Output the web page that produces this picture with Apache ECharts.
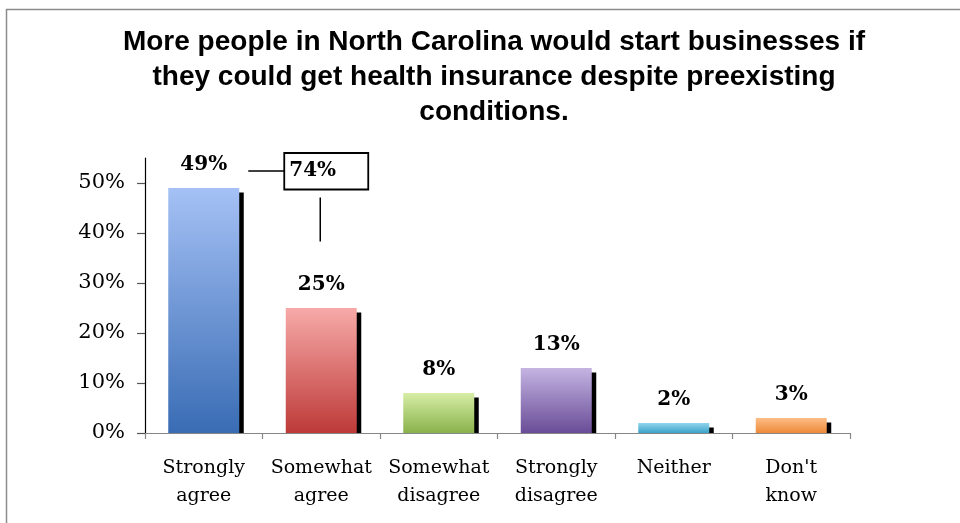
<!DOCTYPE html>
<html>
<head>
<meta charset="utf-8">
<script src="https://cdn.jsdelivr.net/npm/echarts@6/dist/echarts.min.js"></script>
<style>
html,body{margin:0;padding:0;background:#fff;}
#chart{width:960px;height:523px;}
</style>
</head>
<body>
<div id="chart"></div>
<script>
// ---- data ----
const titleText = 'More people in North Carolina would start businesses if\nthey could get health insurance despite preexisting\nconditions.';
const categories = ['Strongly\nagree', 'Somewhat\nagree', 'Somewhat\ndisagree', 'Strongly\ndisagree', 'Neither', "Don't\nknow"];
const values = [49, 25, 8, 13, 2, 3];
const yTicks = [0, 10, 20, 30, 40, 50];
const topColors = ['#a5c1f5', '#f7aaa8', '#d7eea6', '#c4b4e2', '#92d5ed', '#fdbd86'];
const bottomColors = ['#396cb4', '#bd3a38', '#89b24b', '#694c97', '#3aa2c8', '#ee8a3a'];
const agreeTotal = values[0] + values[1];

const barW = 71;
const serif = '"DejaVu Serif", "Liberation Serif", serif';

const chart = echarts.init(document.getElementById('chart'), null, {renderer: 'canvas'});

const barData = values.map((v, i) => ({
  value: v,
  itemStyle: {
    color: {
      type: 'linear', x: 0, y: 0, x2: 0, y2: 1,
      colorStops: [{offset: 0, color: topColors[i]}, {offset: 1, color: bottomColors[i]}]
    }
  }
}));

chart.setOption({
  animation: false,
  backgroundColor: '#fff',
  title: {
    text: titleText,
    left: 494,
    top: 25,
    textAlign: 'center',
    padding: 0,
    textStyle: {
      fontFamily: '"Liberation Sans", Arial, sans-serif',
      fontWeight: 'bold',
      fontSize: 28,
      lineHeight: 35,
      color: '#000'
    }
  },
  grid: {left: 145, right: 110, top: 158, bottom: 90, containLabel: false},
  xAxis: {
    type: 'category',
    data: categories,
    axisLine: {lineStyle: {color: '#868686', width: 1.2}},
    axisTick: {show: true, length: 6, alignWithLabel: false, lineStyle: {color: '#868686', width: 1.2}},
    axisLabel: {
      interval: 0, margin: 21, color: '#000',
      fontFamily: serif, fontSize: 19, lineHeight: 28
    },
    splitLine: {show: false}
  },
  yAxis: {
    type: 'value',
    min: 0, max: 55, interval: 10,
    axisLine: {show: true, lineStyle: {color: '#000', width: 1.2}},
    axisTick: {show: true, length: 8, customValues: yTicks, lineStyle: {color: '#555', width: 1.2}},
    axisLabel: {
      customValues: yTicks,
      formatter: '{value}%', margin: 20, color: '#000',
      fontFamily: serif, fontSize: 21
    },
    splitLine: {show: false}
  },
  series: [
    {
      type: 'custom',
      z: 1,
      silent: true,
      encode: {x: 0, y: 1},
      data: values.map((v, i) => [i, v]),
      renderItem: function (params, api) {
        const idx = api.value(0);
        const v = api.value(1);
        const top = api.coord([idx, v]);
        const base = api.coord([idx, 0]);
        const off = 4.5;
        return {
          type: 'rect',
          shape: {
            x: top[0] - barW / 2 + off,
            y: top[1] + off,
            width: barW,
            height: Math.max(0, base[1] - top[1] - off)
          },
          style: {fill: '#000'}
        };
      }
    },
    {
      type: 'bar',
      z: 2,
      barWidth: barW,
      data: barData,
      label: {
        show: true,
        position: 'top',
        distance: 13,
        formatter: '{c}%',
        fontFamily: serif,
        fontWeight: 'bold',
        fontSize: 20,
        color: '#000'
      }
    }
  ]
});

// annotation anchored to category positions
const c1 = chart.convertToPixel({xAxisIndex: 0}, 1);
const c0 = chart.convertToPixel({xAxisIndex: 0}, 0);
const yLine = chart.convertToPixel({yAxisIndex: 0}, 52.4);
const yBoxTop = chart.convertToPixel({yAxisIndex: 0}, 56);
const yBoxBot = chart.convertToPixel({yAxisIndex: 0}, 48.7);
const yVTop = chart.convertToPixel({yAxisIndex: 0}, 47.1);
const yVBot = chart.convertToPixel({yAxisIndex: 0}, 38.3);
const boxL = c1 - 37, boxR = c1 + 47;

chart.setOption({
  graphic: [
    {
      type: 'rect', z: 0, silent: true,
      shape: {x: 6.5, y: 9.5, width: 1100, height: 1000},
      style: {fill: null, stroke: '#8c8c8c', lineWidth: 1.5}
    },
    {
      type: 'line', z: 10, silent: true,
      shape: {x1: c0 + 44.5, y1: yLine, x2: boxL, y2: yLine},
      style: {stroke: '#000', lineWidth: 1.5}
    },
    {
      type: 'rect', z: 10, silent: true,
      shape: {x: boxL, y: yBoxTop, width: boxR - boxL, height: yBoxBot - yBoxTop},
      style: {fill: '#fff', stroke: '#000', lineWidth: 1.8}
    },
    {
      type: 'text', z: 11, silent: true,
      x: boxL + 5, y: (yBoxTop + yBoxBot) / 2,
      style: {
        text: agreeTotal + '%',
        fontFamily: serif, fontWeight: 'bold', fontSize: 20,
        fill: '#000', align: 'left', verticalAlign: 'middle'
      }
    },
    {
      type: 'line', z: 10, silent: true,
      shape: {x1: c1 - 1, y1: yVTop, x2: c1 - 1, y2: yVBot},
      style: {stroke: '#000', lineWidth: 1.5}
    }
  ]
});
</script>
</body>
</html>
